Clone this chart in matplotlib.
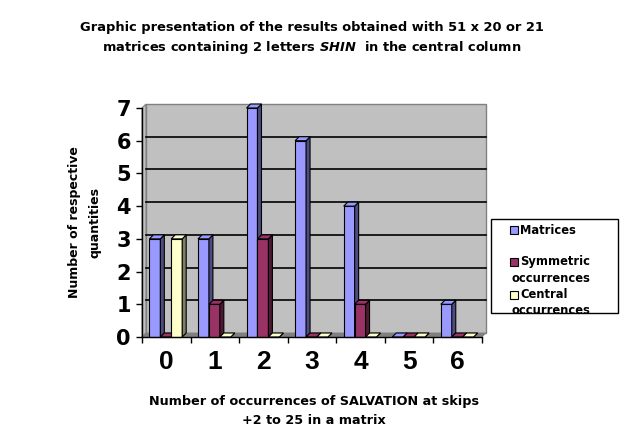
import numpy as np
import matplotlib
matplotlib.use('Agg')
import matplotlib.pyplot as plt
from matplotlib.patches import Rectangle, Polygon

# data
categories = ['0', '1', '2', '3', '4', '5', '6']
series_names = ['Matrices', 'Symmetric\noccurrences', 'Central\noccurrences']
matrices = [3, 3, 7, 6, 4, 0, 1]
symmetric = [0, 1, 3, 0, 1, 0, 0]
central = [3, 0, 0, 0, 0, 0, 0]
yticks = [0, 1, 2, 3, 4, 5, 6, 7]

front_colors = ['#9999FF', '#993366', '#FFFFCC']
side_colors = ['#4C4C80', '#4C1933', '#808066']

plt.rcParams['font.family'] = 'DejaVu Sans'
plt.rcParams['font.weight'] = 'bold'
plt.rcParams['mathtext.fontset'] = 'custom'
plt.rcParams['mathtext.it'] = 'DejaVu Sans:italic:bold'

W, H = 624, 447
fig = plt.figure(figsize=(W / 100, H / 100), dpi=100)

def fx(x):
    return x / W

def fy(y):
    return 1 - y / H

# front axis box: x 142..482 px, y 337..108 px
ax = fig.add_axes([fx(142), fy(337), (482 - 142) / W, (337 - 108) / H])
ncat = len(categories)
ax.set_xlim(-0.5, ncat - 0.5)
ax.set_ylim(0, 7)
ax.patch.set_visible(False)

# 3d depth offsets in data units (about 4 px each way)
dx = 4 / (340 / ncat)
dy = 4 / (229 / 7)

# back wall, side wall and floor
ax.add_patch(Rectangle((-0.5 + dx, dy), ncat, 7, facecolor='#C0C0C0',
                       edgecolor='#808080', lw=1, zorder=0, clip_on=False))
ax.add_patch(Polygon([(-0.5, 0), (-0.5 + dx, dy), (-0.5 + dx, 7 + dy), (-0.5, 7)],
                     closed=True, facecolor='#C0C0C0', edgecolor='#808080',
                     lw=0.8, zorder=0, clip_on=False))
ax.add_patch(Polygon([(-0.5, 0), (ncat - 0.5, 0), (ncat - 0.5 + dx, dy), (-0.5 + dx, dy)],
                     closed=True, facecolor='#808080', edgecolor='#808080',
                     lw=0.5, zorder=0.5, clip_on=False))
for k in yticks[1:-1]:
    ax.plot([-0.5 + dx, ncat - 0.5 + dx], [k + dy, k + dy], color='black',
            lw=1.2, zorder=0.6, clip_on=False)

# 3d bars
width = 0.225
offsets = [-0.235, -0.01, 0.215]
all_series = [matrices, symmetric, central]
for i, vals in enumerate(all_series):
    for j, v in enumerate(vals):
        x0 = j + offsets[i] - width / 2
        x1 = x0 + width
        z = 2 + i
        ax.add_patch(Rectangle((x0, 0), width, v, facecolor=front_colors[i],
                               edgecolor='black', lw=0.8, zorder=z, clip_on=False))
        ax.add_patch(Polygon([(x1, 0), (x1 + dx, dy), (x1 + dx, v + dy), (x1, v)],
                             closed=True, facecolor=side_colors[i],
                             edgecolor='black', lw=0.8, zorder=z, clip_on=False))
        ax.add_patch(Polygon([(x0, v), (x1, v), (x1 + dx, v + dy), (x0 + dx, v + dy)],
                             closed=True, facecolor=front_colors[i],
                             edgecolor='black', lw=0.8, zorder=z, clip_on=False))

# axes lines and ticks
for s in ['top', 'right']:
    ax.spines[s].set_visible(False)
for s in ['left', 'bottom']:
    ax.spines[s].set_color('black')
    ax.spines[s].set_linewidth(1)
    ax.spines[s].set_zorder(10)
ax.set_yticks(yticks)
ax.set_yticklabels([str(t) for t in yticks], fontsize=15, fontweight='bold')
ax.tick_params(axis='y', length=4, width=1, pad=4)
ax.set_xticks(range(ncat))
ax.set_xticklabels(categories, fontsize=19, fontweight='bold',
                   family='Liberation Sans')
ax.set_xticks(np.arange(-0.5, ncat, 1), minor=True)
ax.tick_params(axis='x', which='major', length=0, pad=9.5)
ax.tick_params(axis='x', which='minor', length=4, width=1)

# titles
fig.text(fx(312), fy(38.5),
         'Graphic presentation of the results obtained with 51 x 20 or 21\n'
         'matrices containing 2 letters $\\mathit{SHIN}$  in the central column',
         ha='center', va='center', fontsize=9.4, fontweight='bold', linespacing=1.45)
fig.text(fx(314), fy(411),
         'Number of occurrences of SALVATION at skips\n+2 to 25 in a matrix',
         ha='center', va='center', fontsize=9.2, fontweight='bold', linespacing=1.5)
fig.text(fx(85), fy(222), 'Number of respective\nquantities', rotation=90,
         ha='center', va='center', fontsize=9, fontweight='bold', linespacing=1.75)

# legend drawn by hand to keep the Excel layout
fig.patches.append(Rectangle((fx(491), fy(313)), (618 - 491) / W, (313 - 219) / H,
                             transform=fig.transFigure, facecolor='white',
                             edgecolor='black', lw=1))
legend_y = [230, 262, 295]
for i, name in enumerate(series_names):
    yc = legend_y[i]
    fig.patches.append(Rectangle((fx(510), fy(yc + 4)), 8 / W, 8 / H,
                                 transform=fig.transFigure, facecolor=front_colors[i],
                                 edgecolor='black', lw=0.8))
    lines = name.split('\n')
    fig.text(fx(520), fy(yc), lines[0], ha='left', va='center',
             fontsize=8.3, fontweight='bold')
    if len(lines) > 1:
        fig.text(fx(511), fy(yc + 16), lines[1], ha='left', va='center',
                 fontsize=8.3, fontweight='bold')

fig.savefig('out.png', dpi=100)
